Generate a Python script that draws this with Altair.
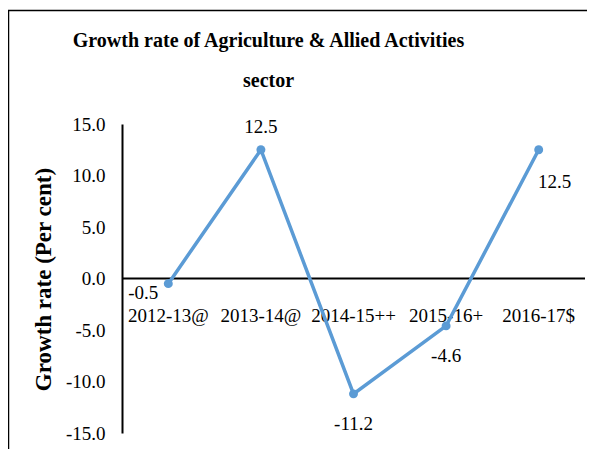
import altair as alt
import pandas as pd

years = ["2012-13@", "2013-14@", "2014-15++", "2015-16+", "2016-17$"]
growth = [-0.5, 12.5, -11.2, -4.6, 12.5]
y_ticks = [-15, -10, -5, 0, 5, 10, 15]

left_below = ["2012-13@"]
above = ["2013-14@"]
below = ["2014-15++", "2015-16+"]
right_below = ["2016-17$"]

df = pd.DataFrame({"year": years, "growth": growth,
                   "label": [f"{v:.1f}" for v in growth]})

FONT = "Liberation Serif"
BLUE = "#5B9BD5"

yscale = alt.Scale(domain=[-15, 15], nice=False, zero=False)
x = alt.X("year:N", sort=years, axis=None,
          scale=alt.Scale(type="point", padding=0.5))
y = alt.Y("growth:Q", scale=yscale,
          axis=alt.Axis(values=y_ticks,
                        labelExpr="(datum.value < 0 ? '-' : '') + format(abs(datum.value), '.1f')",
                        title="Growth rate (Per cent)", grid=False,
                        ticks=False, tickSize=0, domainColor="black",
                        domainWidth=2, labelFont=FONT, labelFontSize=19,
                        labelColor="black", labelPadding=17,
                        titleFont=FONT, titleFontSize=23,
                        titleFontWeight="bold", titleColor="black",
                        titleX=-79, titleY=155, titleAngle=-90,
                        titleAlign="center", titleBaseline="middle"))
y0 = alt.YDatum(0, type="quantitative", scale=yscale)

base = alt.Chart(df).encode(x=x, y=y)

one = pd.DataFrame({"a": [0]})
frame_top = alt.Chart(one).mark_rule(color="black", strokeWidth=1.5).encode(
    x=alt.value(-114), x2=alt.value(470), y=alt.value(-113.5))
frame_left = alt.Chart(one).mark_rule(color="black", strokeWidth=1.5).encode(
    x=alt.value(-113.5), y=alt.value(-114), y2=alt.value(340))

zero = alt.Chart(one).mark_rule(color="black", strokeWidth=2).encode(y=y0)

xlabels = base.mark_text(font=FONT, fontSize=19, dy=37, baseline="middle",
                         color="black").encode(text="year:N", y=y0)

line = base.mark_line(color=BLUE, strokeWidth=3.5)
pts = base.mark_circle(color=BLUE, size=80, opacity=1)


def lab(cats, dx, dy):
    return base.mark_text(font=FONT, fontSize=19, dx=dx, dy=dy,
                          baseline="middle", color="black").encode(
        text="label:N").transform_filter(
        alt.FieldOneOfPredicate(field="year", oneOf=cats))


chart = alt.layer(
    frame_top, frame_left, zero, xlabels, line, pts,
    lab(left_below, -25, 9), lab(above, 0, -23),
    lab(below, 0, 30), lab(right_below, 16, 32),
).properties(
    width=463, height=309,
    padding={"left": 114, "top": 116, "right": 2, "bottom": 16},
    autosize=alt.AutoSizeParams(type="none"),
    background="white",
    title=alt.TitleParams(
        ["Growth rate of Agriculture & Allied Activities", "sector"],
        font=FONT, fontSize=20, fontWeight="bold", color="black",
        lineHeight=40, anchor="middle", dx=-85, offset=0, dy=82),
).configure_view(stroke=None)

chart.save("out.html", embed_options={"renderer": "svg", "actions": False})
